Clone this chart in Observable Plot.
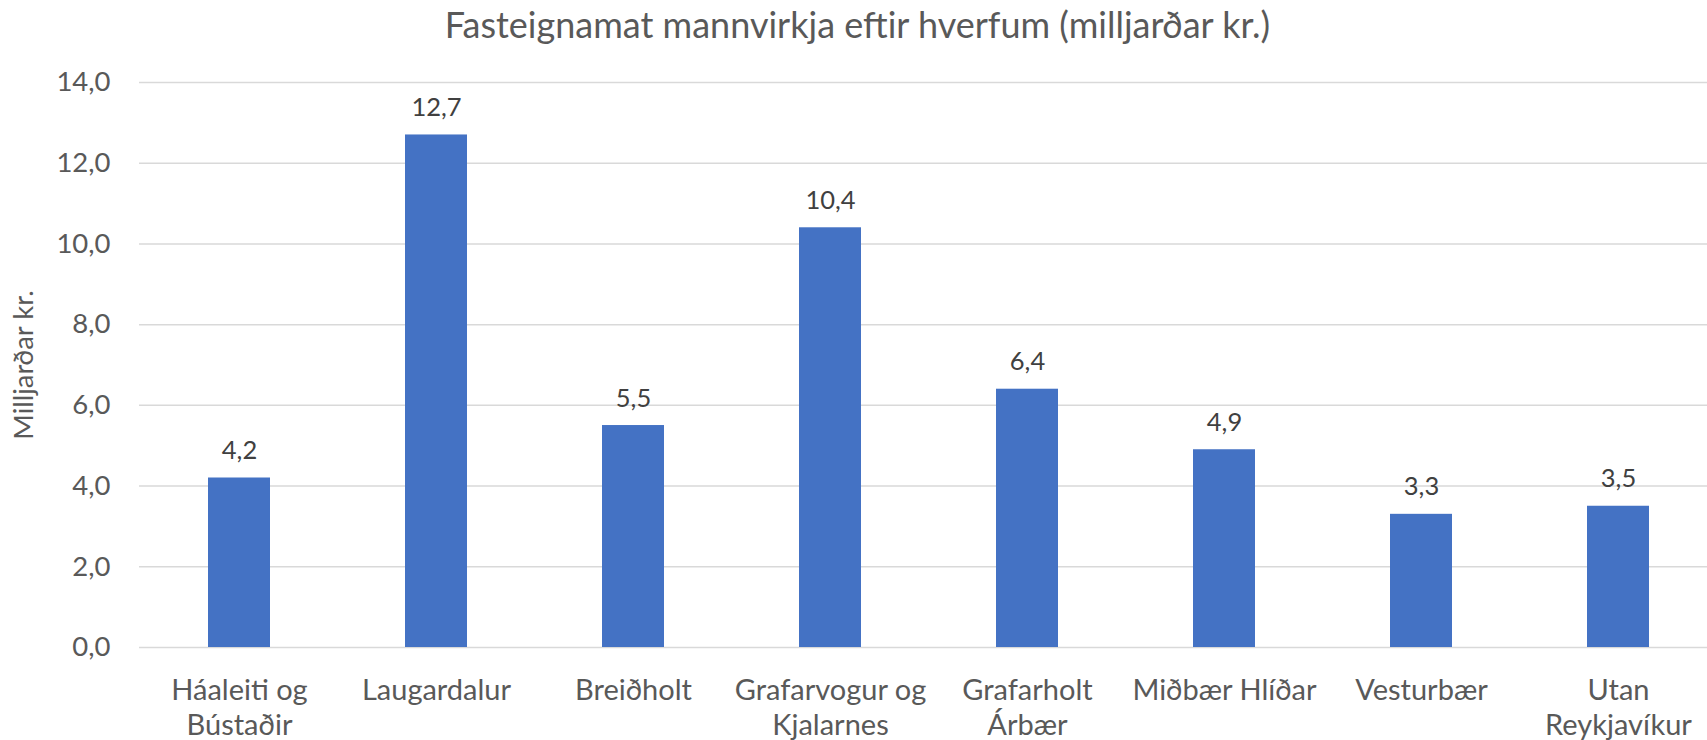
<!DOCTYPE html>
<html>
<head>
<meta charset="utf-8">
<script src="https://cdn.jsdelivr.net/npm/d3@7"></script>
<script src="https://cdn.jsdelivr.net/npm/@observablehq/plot@0.6"></script>
<style>
  html, body { margin: 0; padding: 0; background: #fff; overflow: hidden; }
  #title { height: 50px; line-height: 48px; text-align: center; font-family: Lato, "Open Sans", sans-serif; font-size: 36px; color: #595959; padding-left: 8px; }
</style>
</head>
<body>
<div id="title">Fasteignamat mannvirkja eftir hverfum (milljarðar kr.)</div>
<div id="chart"></div>
<script>
const categories = ["Háaleiti og Bústaðir", "Laugardalur", "Breiðholt", "Grafarvogur og Kjalarnes", "Grafarholt Árbær", "Miðbær Hlíðar", "Vesturbær", "Utan Reykjavíkur"];
const tickLabels = ["Háaleiti og\nBústaðir", "Laugardalur", "Breiðholt", "Grafarvogur og\nKjalarnes", "Grafarholt\nÁrbær", "Miðbær Hlíðar", "Vesturbær", "Utan\nReykjavíkur"];
const values = [4.2, 12.7, 5.5, 10.4, 6.4, 4.9, 3.3, 3.5];
const yTicks = [0, 2, 4, 6, 8, 10, 12, 14];

const data = categories.map((c, i) => ({category: c, value: values[i]}));
const fmt = v => v.toFixed(1).replace(".", ",");
const labelOf = new Map(categories.map((c, i) => [c, tickLabels[i]]));

const chart = Plot.plot({
  width: 1707,
  height: 690,
  marginTop: 32,
  marginBottom: 93,
  marginLeft: 139,
  marginRight: 0,
  style: {fontFamily: 'Lato, "Open Sans", sans-serif', fontSize: "27px", color: "#595959", background: "#fff", overflow: "visible"},
  x: {domain: categories, range: [140, 1717], paddingInner: 0.685, paddingOuter: 0.3425, axis: null},
  y: {domain: [0, 14], axis: null},
  marks: [
    Plot.gridY(yTicks, {stroke: "#d9d9d9", strokeOpacity: 1, strokeWidth: 1.5}),
    Plot.barY(data, {x: "category", y: "value", fill: "#4472C4"}),
    Plot.text(data, {x: "category", y: "value", text: d => fmt(d.value), dy: -27, fill: "#404040", fontSize: 25.5}),
    Plot.axisY(yTicks, {tickSize: 0, tickPadding: 29, tickFormat: fmt, fill: "#595959", fontSize: 27.5, label: "Milljarðar kr.", labelAnchor: "center", labelArrow: "none", labelOffset: 126}),
    Plot.axisX(categories, {tickSize: 0, tickPadding: 28, tickFormat: c => labelOf.get(c), fill: "#595959", fontSize: 29, lineHeight: 1.2, label: null, lineAnchor: "top"})
  ]
});
document.getElementById("chart").appendChild(chart);
</script>
</body>
</html>
